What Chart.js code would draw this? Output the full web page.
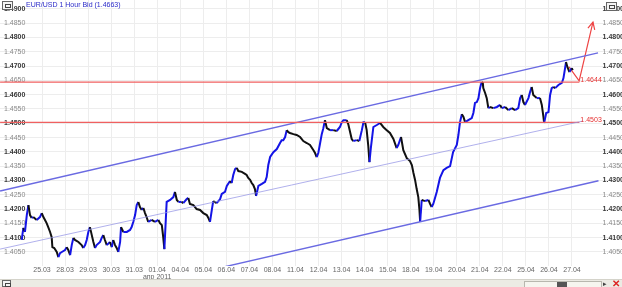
<!DOCTYPE html>
<html>
<head>
<meta charset="utf-8">
<script src="https://cdn.jsdelivr.net/npm/chart.js@4.4.0/dist/chart.umd.min.js"></script>
<style>
  body { margin: 0; background: #fff; width: 622px; height: 287px; overflow: hidden; font-family: "Liberation Sans", Arial, sans-serif; }
  #wrap { position: relative; width: 622px; height: 279px; }
  #title { position: absolute; left: 26px; top: 1px; font-size: 7px; color: #2a2ac8; white-space: nowrap; }
  .ico { position: absolute; width: 9px; height: 7px; border: 1px solid #666; background: #f4f4f4; }
  .ico:after { content: ""; position: absolute; left: 2px; top: 2px; width: 4px; height: 2px; border: 1px solid #444; }
  #bar { position: relative; height: 8px; background: #ecebe4; border-top: 1px solid #d4d3ca; }
  #track { position: absolute; left: 524px; top: 1px; width: 76px; height: 5px; border: 1px solid #b8b7ae; background: #f6f5ef; }
  #thumb { position: absolute; left: 32px; top: 0; width: 10px; height: 5px; background: #555; }
  #arr { position: absolute; left: 603px; top: 0; font-size: 7px; color: #444; }
  #close { position: absolute; left: 612px; top: -2px; font-size: 10px; color: #d22; font-weight: bold; }
</style>
</head>
<body>
<div id="wrap">
  <canvas id="chart" width="622" height="279"></canvas>
  <div class="ico" style="left:2px;top:1px"></div>
  <div class="ico" style="left:606px;top:2px"></div>
  <div id="title">EUR/USD 1 Hour Bid (1.4663)</div>
</div>
<div id="bar">
  <div class="ico" style="left:2px;top:0;width:7px;height:5px"></div>
  <div id="track"><div id="thumb"></div></div>
  <div id="arr">▸</div>
  <div id="close">✕</div>
</div>
<script>
// trading days shown on the time axis (index = day number)
const dates = ['25.03', '28.03', '29.03', '30.03', '31.03', '01.04', '04.04', '05.04', '06.04', '07.04', '08.04', '11.04',
  '12.04', '13.04', '14.04', '15.04', '18.04', '19.04', '20.04', '21.04', '22.04', '25.04', '26.04', '27.04'];
const monthLabel = 'апр 2011';

// price path (time in trading days)
const times = [-0.88, -0.81, -0.74, -0.66, -0.59, -0.52, -0.45, -0.38, -0.23, -0.09, -0.01, 0.06, 0.13, 0.20, 0.27, 0.35,
  0.42, 0.45, 0.53, 0.64, 0.71, 0.78, 0.86, 1.00, 1.07, 1.14, 1.22, 1.29, 1.36, 1.43, 1.58, 1.72, 1.79, 1.87, 1.94, 2.01,
  2.08, 2.16, 2.23, 2.30, 2.37, 2.52, 2.59, 2.66, 2.73, 2.81, 2.95, 3.03, 3.09, 3.17, 3.24, 3.31, 3.39, 3.43, 3.53, 3.68,
  3.82, 3.89, 3.96, 4.04, 4.11, 4.18, 4.25, 4.33, 4.40, 4.47, 4.54, 4.61, 4.76, 4.90, 5.05, 5.12, 5.20, 5.26, 5.31, 5.41,
  5.56, 5.70, 5.77, 5.85, 5.92, 6.06, 6.13, 6.28, 6.35, 6.42, 6.57, 6.71, 6.86, 7.00, 7.15, 7.22, 7.29, 7.37, 7.43, 7.58,
  7.73, 7.80, 7.94, 8.02, 8.16, 8.23, 8.30, 8.38, 8.45, 8.52, 8.67, 8.81, 8.88, 8.95, 9.03, 9.10, 9.17, 9.24, 9.29, 9.39,
  9.54, 9.68, 9.75, 9.82, 9.90, 10.04, 10.19, 10.33, 10.40, 10.47, 10.55, 10.62, 10.69, 10.76, 10.91, 11.05, 11.20, 11.34,
  11.49, 11.63, 11.78, 11.85, 11.92, 11.99, 12.07, 12.14, 12.21, 12.28, 12.36, 12.50, 12.64, 12.79, 12.93, 13.01, 13.08,
  13.22, 13.29, 13.44, 13.51, 13.66, 13.77, 13.88, 13.95, 14.02, 14.09, 14.16, 14.21, 14.27, 14.38, 14.53, 14.67, 14.81,
  14.96, 15.10, 15.25, 15.39, 15.46, 15.58, 15.68, 15.83, 15.97, 16.05, 16.12, 16.19, 16.26, 16.33, 16.38, 16.41, 16.48,
  16.62, 16.77, 16.84, 16.91, 16.98, 17.13, 17.27, 17.42, 17.56, 17.71, 17.84, 18.00, 18.07, 18.14, 18.22, 18.29, 18.36,
  18.50, 18.65, 18.72, 18.79, 18.87, 18.94, 19.01, 19.08, 19.13, 19.15, 19.23, 19.30, 19.37, 19.44, 19.59, 19.74, 19.88,
  19.95, 20.10, 20.24, 20.39, 20.53, 20.67, 20.75, 20.82, 20.89, 20.96, 21.11, 21.18, 21.25, 21.32, 21.47, 21.61, 21.69,
  21.76, 21.79, 21.88, 21.98, 22.05, 22.12, 22.19, 22.27, 22.41, 22.56, 22.63, 22.70, 22.74, 22.80, 22.89, 22.99, 23.03];
const prices = [1.4092, 1.4134, 1.4120, 1.4179, 1.4214, 1.4179, 1.4169, 1.4172, 1.4162, 1.4172, 1.4186, 1.4172, 1.4162,
  1.4151, 1.4137, 1.4120, 1.4102, 1.4067, 1.4064, 1.4050, 1.4032, 1.4046, 1.4050, 1.4057, 1.4067, 1.4057, 1.4039, 1.4074,
  1.4099, 1.4092, 1.4085, 1.4074, 1.4064, 1.4074, 1.4092, 1.4120, 1.4137, 1.4109, 1.4085, 1.4064, 1.4074, 1.4085, 1.4099,
  1.4109, 1.4092, 1.4074, 1.4085, 1.4067, 1.4092, 1.4074, 1.4064, 1.4050, 1.4085, 1.4137, 1.4120, 1.4120, 1.4127, 1.4137,
  1.4155, 1.4179, 1.4214, 1.4225, 1.4207, 1.4197, 1.4204, 1.4186, 1.4172, 1.4155, 1.4162, 1.4155, 1.4162, 1.4151, 1.4144,
  1.4102, 1.4060, 1.4225, 1.4232, 1.4242, 1.4260, 1.4232, 1.4225, 1.4225, 1.4221, 1.4235, 1.4239, 1.4218, 1.4214, 1.4200,
  1.4197, 1.4186, 1.4179, 1.4169, 1.4155, 1.4197, 1.4228, 1.4221, 1.4235, 1.4253, 1.4260, 1.4281, 1.4298, 1.4291, 1.4319,
  1.4340, 1.4344, 1.4333, 1.4330, 1.4323, 1.4319, 1.4309, 1.4302, 1.4291, 1.4284, 1.4270, 1.4246, 1.4281, 1.4288, 1.4295,
  1.4312, 1.4354, 1.4382, 1.4399, 1.4410, 1.4431, 1.4441, 1.4441, 1.4452, 1.4476, 1.4469, 1.4466, 1.4462, 1.4459, 1.4452,
  1.4438, 1.4431, 1.4424, 1.4406, 1.4396, 1.4382, 1.4396, 1.4431, 1.4462, 1.4483, 1.4511, 1.4483, 1.4476, 1.4476, 1.4473,
  1.4487, 1.4504, 1.4511, 1.4511, 1.4497, 1.4445, 1.4438, 1.4441, 1.4438, 1.4476, 1.4504, 1.4504, 1.4476, 1.4420, 1.4364,
  1.4413, 1.4487, 1.4494, 1.4501, 1.4487, 1.4476, 1.4466, 1.4445, 1.4413, 1.4424, 1.4452, 1.4406, 1.4378, 1.4368, 1.4354,
  1.4326, 1.4302, 1.4270, 1.4242, 1.4197, 1.4155, 1.4232, 1.4228, 1.4232, 1.4218, 1.4207, 1.4218, 1.4260, 1.4309, 1.4336,
  1.4344, 1.4350, 1.4399, 1.4424, 1.4459, 1.4504, 1.4532, 1.4522, 1.4504, 1.4511, 1.4518, 1.4536, 1.4571, 1.4574, 1.4588,
  1.4623, 1.4644, 1.4641, 1.4623, 1.4606, 1.4588, 1.4553, 1.4557, 1.4553, 1.4557, 1.4564, 1.4553, 1.4557, 1.4546, 1.4553,
  1.4546, 1.4553, 1.4588, 1.4599, 1.4574, 1.4564, 1.4588, 1.4609, 1.4627, 1.4599, 1.4588, 1.4588, 1.4564, 1.4522, 1.4501,
  1.4536, 1.4539, 1.4599, 1.4623, 1.4627, 1.4623, 1.4634, 1.4641, 1.4658, 1.4693, 1.4714, 1.4697, 1.4679, 1.4693, 1.4686];

// price axis labels
const yTicks = [1.4050, 1.4100, 1.4150, 1.4200, 1.4250, 1.4300, 1.4350, 1.4400, 1.4450, 1.4500, 1.4550, 1.4600,
  1.4650, 1.4700, 1.4750, 1.4800, 1.4850, 1.4900];

// drawn studies: channel, mid line, levels and the forecast arrow
const upperChannel = [[-1.82, 1.4263], [24.13, 1.4746]];
const middleLine = [[-1.82, 1.4060], [23.48, 1.4508]];
const lowerChannel = [[7.80, 1.3996], [24.15, 1.4299]];
const levels = [1.4644, 1.4503];
const levelSpan = [-1.82, 23.32];
const arrowPath = [[22.87, 1.4697], [23.31, 1.4648], [23.91, 1.4854]];

const FONT = '"Liberation Sans", Arial, sans-serif';
const toPts = arr => arr.map(p => ({ x: p[0], y: p[1] }));

const marks = {
  id: 'marks',
  afterDatasetsDraw(chart) {
    const { ctx, scales: { x, y } } = chart;
    ctx.save();
    // arrow head at the end of the forecast path
    const a = arrowPath[arrowPath.length - 2], b = arrowPath[arrowPath.length - 1];
    const x1 = x.getPixelForValue(a[0]), y1 = y.getPixelForValue(a[1]);
    const x2 = x.getPixelForValue(b[0]), y2 = y.getPixelForValue(b[1]);
    const ang = Math.atan2(y2 - y1, x2 - x1);
    ctx.strokeStyle = '#ee4444';
    ctx.lineWidth = 1.2;
    ctx.beginPath();
    ctx.moveTo(x2 - 8 * Math.cos(ang - 0.45), y2 - 8 * Math.sin(ang - 0.45));
    ctx.lineTo(x2, y2);
    ctx.lineTo(x2 - 8 * Math.cos(ang + 0.45), y2 - 8 * Math.sin(ang + 0.45));
    ctx.stroke();
    // level captions
    ctx.fillStyle = '#e53030';
    ctx.font = '7px ' + FONT;
    ctx.textAlign = 'left';
    ctx.textBaseline = 'bottom';
    levels.forEach(v => {
      ctx.fillText(v.toFixed(4), x.getPixelForValue(levelSpan[1]) + 1, y.getPixelForValue(v) + 1);
    });
    ctx.restore();
  }
};

const isMajor = v => Math.round(v * 10000) % 100 === 0;
const yTickOpts = {
  mirror: true,
  font: c => ({ size: 7, family: FONT, weight: c.tick && isMajor(c.tick.value) ? 'bold' : 'normal' }),
  color: c => (c.tick && isMajor(c.tick.value) ? '#3a3a3a' : '#8a8a8a'),
  callback: v => v.toFixed(4)
};
const fitY = s => { s.width = 0; s.paddingTop = 0; s.paddingBottom = 0; };

new Chart(document.getElementById('chart'), {
  type: 'line',
  data: {
    datasets: [
      {
        data: toPts(middleLine),
        borderColor: 'rgba(150,150,230,0.75)',
        borderWidth: 1,
        pointRadius: 0
      },
      {
        data: levelSpan.map(t => ({ x: t, y: levels[0] })),
        borderColor: '#f06060',
        borderWidth: 1.3,
        pointRadius: 0
      },
      {
        data: levelSpan.map(t => ({ x: t, y: levels[1] })),
        borderColor: '#f06060',
        borderWidth: 1.3,
        pointRadius: 0
      },
      {
        data: toPts(upperChannel),
        borderColor: '#6a6ae2',
        borderWidth: 1.4,
        pointRadius: 0
      },
      {
        data: toPts(lowerChannel),
        borderColor: '#6a6ae2',
        borderWidth: 1.4,
        pointRadius: 0
      },
      {
        data: times.map((t, i) => ({ x: t, y: prices[i] })),
        borderWidth: 2,
        pointRadius: 0,
        tension: 0,
        segment: {
          borderColor: c => (c.p1.parsed.y >= c.p0.parsed.y ? '#1414e6' : '#111111')
        }
      },
      {
        data: toPts(arrowPath),
        borderColor: '#ee4444',
        borderWidth: 1.2,
        pointRadius: 0
      }
    ]
  },
  options: {
    responsive: false,
    animation: false,
    layout: { padding: 0 },
    plugins: { legend: { display: false }, tooltip: { enabled: false } },
    scales: {
      x: {
        type: 'linear',
        min: -1.823,
        max: 25.17,
        afterBuildTicks: s => { s.ticks = dates.map((d, i) => ({ value: i })); },
        afterFit: s => { s.height = 13; s.paddingLeft = 0; s.paddingRight = 0; },
        grid: { color: '#ededed', drawTicks: false },
        border: { display: false },
        ticks: {
          autoSkip: false,
          maxRotation: 0,
          padding: 1,
          color: '#666',
          font: { size: 7, family: FONT, lineHeight: 1 },
          callback: v => (dates[v] === '01.04' ? [dates[v], monthLabel] : dates[v])
        }
      },
      y: {
        position: 'left',
        min: 1.4001,
        max: 1.4931,
        afterBuildTicks: s => { s.ticks = yTicks.map(v => ({ value: v })); },
        afterFit: fitY,
        grid: { color: '#ededed', drawTicks: false },
        border: { display: false },
        ticks: Object.assign({ padding: 4 }, yTickOpts)
      },
      y2: {
        position: 'right',
        min: 1.4001,
        max: 1.4931,
        afterBuildTicks: s => { s.ticks = yTicks.map(v => ({ value: v })); },
        afterFit: fitY,
        grid: { display: false },
        border: { display: false },
        ticks: Object.assign({ padding: 2 }, yTickOpts)
      }
    }
  },
  plugins: [marks]
});
</script>
</body>
</html>
